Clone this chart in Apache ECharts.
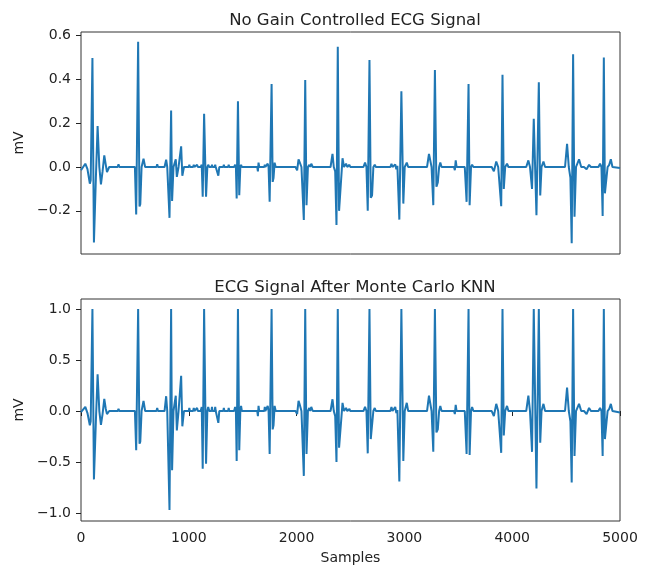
<!DOCTYPE html>
<html>
<head>
<meta charset="utf-8">
<script src="https://cdn.jsdelivr.net/npm/echarts@6/dist/echarts.min.js"></script>
<style>
  html, body { margin: 0; padding: 0; background: #fff; }
  #chart { width: 651px; height: 569px; }
</style>
</head>
<body>
<div id="chart"></div>
<script>
// vertices of the traces, read beat by beat off the picture
var samples = [
    0, 15, 40, 60, 82, 90, 106, 120, 138, 154, 170, 185, 200, 216, 230, 241, 262, 340, 348, 356,
    500, 512, 530, 543, 550, 562, 580, 595, 700, 707, 714,
    775, 790, 800, 812, 821, 836, 845, 858, 879, 889, 905, 929, 940, 955, 1000, 1005, 1010, 1040, 1046, 1052, 1070, 1077, 1084,
    1110, 1120, 1129, 1142, 1160, 1172, 1180, 1190, 1210, 1215, 1220, 1240, 1245, 1250, 1265, 1274, 1283, 1320, 1325, 1330, 1365, 1370, 1375,
    1420, 1430, 1437, 1444, 1456, 1468, 1478, 1485, 1492, 1635, 1641, 1647, 1653,
    1700, 1705, 1710, 1725, 1732, 1740, 1750, 1768, 1778, 1786, 1796, 1806,
    1990, 2005, 2018, 2030, 2045, 2067, 2080, 2092, 2105, 2118, 2126, 2136, 2150,
    2315, 2333, 2345, 2358, 2370, 2382, 2394, 2405, 2426, 2440, 2459, 2470, 2490, 2498,
    2620, 2635, 2648, 2660, 2676, 2688, 2700, 2712, 2725, 2735,
    2870, 2880, 2890, 2905, 2915, 2925, 2935, 2953, 2972, 2990, 3003, 3022, 3035,
    3210, 3228, 3240, 3252, 3268, 3283, 3297, 3310, 3322, 3333, 3345,
    3460, 3468, 3476, 3484, 3560, 3577, 3595, 3605, 3618, 3628, 3640,
    3810, 3822, 3830, 3852, 3870, 3898, 3910, 3922, 3935, 3952, 3965,
    4130, 4150, 4165, 4184, 4200, 4225, 4247, 4260, 4272, 4290, 4305,
    4490, 4509, 4525, 4540, 4552, 4565, 4578, 4592, 4620, 4640, 4666, 4690, 4713, 4730,
    4800, 4815, 4828, 4839, 4850, 4860, 4870, 4885, 4900, 4915, 4930, 4945, 5000
];

var rawMv = [
    -0.015, -0.02, 0.015, -0.01, -0.076, -0.06, 0.497, -0.344, -0.05, 0.187, 0, -0.079, -0.02, 0.053, 0.01, -0.023, 0, 0, 0.012, 0,
    0, -0.217, 0.571, -0.18, -0.17, 0, 0.038, 0, 0, 0.012, 0,
    0, 0.033, 0, 0, -0.232, 0.258, -0.155, 0, 0.035, -0.045, 0, 0.094, -0.04, 0, 0, 0.01, 0, 0, 0.01, 0, 0, 0.01, 0,
    0, 0.01, -0.136, 0.243, -0.136, 0, 0.01, 0, 0, 0.01, 0, 0, 0.01, 0, 0, -0.04, 0, 0, 0.01, 0, 0, 0.01, 0,
    0, 0.01, 0, -0.144, 0.3, -0.129, 0, 0.01, 0, 0, -0.02, 0.02, 0,
    0, 0.01, 0, 0, 0.015, 0, -0.159, 0.379, -0.068, -0.05, 0.02, 0,
    0, -0.015, 0.035, 0.02, 0, -0.242, 0.397, -0.174, 0, 0.01, 0, 0.015, 0,
    0, 0.06, 0, -0.02, -0.265, 0.549, -0.2, -0.2, 0.04, 0, 0.015, 0, 0.01, 0,
    0, 0.02, 0, -0.2, 0.488, -0.14, -0.13, 0, 0.01, 0,
    0, 0.015, 0, 0, 0.012, -0.01, 0.005, -0.24, 0.345, -0.167, 0, 0.02, 0,
    0, 0.06, 0.055, 0, -0.174, 0.443, -0.09, -0.07, 0, 0.02, 0,
    0, -0.015, 0.03, 0, 0, -0.159, 0.379, -0.174, 0, 0.01, 0,
    0, 0.005, -0.02, 0.025, 0, -0.179, 0.421, -0.1, 0, 0.015, 0,
    0, 0.03, 0, -0.1, 0.22, -0.22, 0.387, -0.13, 0, 0.025, 0,
    0, 0.106, 0, -0.05, -0.348, 0.515, -0.227, 0, 0.035, 0, 0, -0.01, 0.01, 0,
    0, 0.015, 0, -0.224, 0.5, -0.12, -0.12, 0, 0.01, 0.035, 0, -0.005, -0.005
];

var knnMv = [
    -0.01, -0.02, 0.04, -0.02, -0.14, -0.1, 1.0, -0.67, -0.1, 0.36, 0, -0.135, -0.03, 0.118, 0.02, -0.03, 0, 0, 0.02, 0,
    0, -0.385, 1.0, -0.32, -0.3, 0, 0.1, 0, 0, 0.03, 0,
    0, 0.145, 0, 0, -0.97, 1.0, -0.58, 0, 0.15, -0.19, 0, 0.346, -0.15, 0, 0, 0.03, 0, 0, 0.03, 0, 0, 0.03, 0,
    0, 0.04, -0.565, 1.0, -0.516, 0, 0.04, 0, 0, 0.04, 0, 0, 0.04, 0, 0, -0.116, 0, 0, 0.03, 0, 0, 0.03, 0,
    0, 0.04, 0, -0.49, 1.0, -0.385, 0, 0.05, 0, 0, -0.05, 0.05, 0,
    0, 0.04, 0, 0, 0.05, 0, -0.42, 1.0, -0.18, -0.14, 0.05, 0,
    0, -0.03, 0.1, 0.06, 0, -0.636, 1.0, -0.42, 0, 0.03, 0, 0.04, 0,
    0, 0.115, 0, -0.05, -0.5, 1.0, -0.36, -0.36, 0.08, 0, 0.03, 0, 0.02, 0,
    0, 0.04, 0, -0.415, 1.0, -0.275, -0.27, 0, 0.03, 0,
    0, 0.04, 0, 0, 0.04, -0.02, 0.01, -0.69, 1.0, -0.49, 0, 0.08, 0,
    0, 0.15, 0.14, 0, -0.4, 1.0, -0.21, -0.18, 0, 0.05, 0,
    0, -0.03, 0.06, 0, 0, -0.42, 1.0, -0.43, 0, 0.04, 0,
    0, 0.01, -0.05, 0.07, 0, -0.41, 1.0, -0.24, 0, 0.05, 0,
    0, 0.15, 0, -0.4, 1.0, -0.76, 1.0, -0.31, 0, 0.07, 0,
    0, 0.23, 0, -0.1, -0.7, 1.0, -0.44, 0, 0.07, 0, 0, -0.03, 0.03, 0,
    0, 0.03, 0, -0.44, 1.0, -0.275, -0.27, 0, 0.02, 0.07, 0, -0.015, -0.015
];

var xTicks = [0, 1000, 2000, 3000, 4000, 5000];
var rawTicks = [-0.2, 0.0, 0.2, 0.4, 0.6];
var knnTicks = [-1.0, -0.5, 0.0, 0.5, 1.0];

var FONT = 'DejaVu Sans';
var BLUE = '#1f77b4';
var INK = '#222';

var fmt = function (v) {
    var s = Math.abs(v).toFixed(1);
    return v < 0 ? '\u2212' + s : s;
};

var pairs = function (ys) {
    return samples.map(function (x, i) { return [x, ys[i]]; });
};

var yAxisFor = function (idx, lo, hi, ticks) {
    return {
        type: 'value', gridIndex: idx, min: lo, max: hi,
        splitLine: { show: false },
        axisLine: { show: false },
        axisTick: { show: true, length: 5, customValues: ticks, lineStyle: { color: INK } },
        axisLabel: { customValues: ticks, formatter: fmt, margin: 10, color: INK, fontSize: 14, fontFamily: FONT },
        name: 'mV', nameLocation: 'middle', nameGap: 52,
        nameTextStyle: { color: INK, fontSize: 14, fontFamily: FONT }
    };
};

var chart = echarts.init(document.getElementById('chart'), null, { renderer: 'canvas' });

chart.setOption({
    animation: false,
    backgroundColor: '#fff',
    title: [
        { text: 'No Gain Controlled ECG Signal', left: 350, top: 7, textAlign: 'center',
          textStyle: { color: INK, fontSize: 16.5, fontWeight: 'normal', fontFamily: FONT } },
        { text: 'ECG Signal After Monte Carlo KNN', left: 350, top: 274, textAlign: 'center',
          textStyle: { color: INK, fontSize: 16.5, fontWeight: 'normal', fontFamily: FONT } }
    ],
    grid: [
        { left: 81, top: 32, width: 539, height: 222, show: true, borderColor: '#333', borderWidth: 1 },
        { left: 81, top: 299, width: 539, height: 222, show: true, borderColor: '#333', borderWidth: 1 }
    ],
    xAxis: [
        { type: 'value', gridIndex: 0, min: 0, max: 5000, interval: 1000,
          axisLine: { show: false }, axisTick: { show: false }, axisLabel: { show: false }, splitLine: { show: false } },
        { type: 'value', gridIndex: 1, min: 0, max: 5000, interval: 1000,
          splitLine: { show: false },
          axisLine: { show: false },
          axisTick: { show: true, length: 5, customValues: xTicks, lineStyle: { color: INK } },
          axisLabel: { customValues: xTicks, formatter: function (v) { return String(v); },
                       margin: 10, color: INK, fontSize: 14, fontFamily: FONT },
          name: 'Samples', nameLocation: 'middle', nameGap: 30,
          nameTextStyle: { color: INK, fontSize: 14, fontFamily: FONT } }
    ],
    yAxis: [
        yAxisFor(0, -0.397, 0.616, rawTicks),
        yAxisFor(1, -1.078, 1.098, knnTicks)
    ],
    series: [
        { type: 'line', xAxisIndex: 0, yAxisIndex: 0, data: pairs(rawMv), showSymbol: false,
          lineStyle: { color: BLUE, width: 2 }, itemStyle: { color: BLUE } },
        { type: 'line', xAxisIndex: 1, yAxisIndex: 1, data: pairs(knnMv), showSymbol: false,
          lineStyle: { color: BLUE, width: 2 }, itemStyle: { color: BLUE } }
    ]
});
</script>
</body>
</html>
